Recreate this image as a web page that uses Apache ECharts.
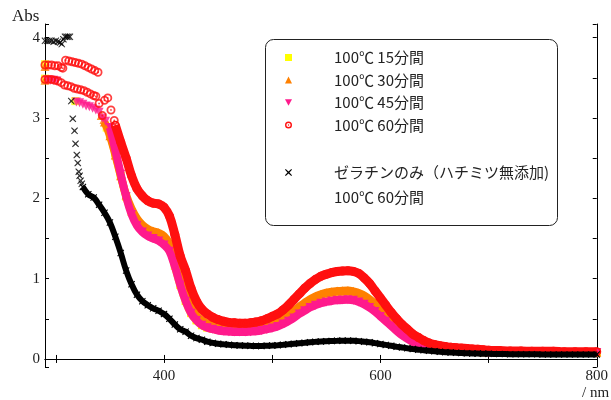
<!DOCTYPE html>
<html>
<head>
<meta charset="utf-8">
<script src="https://cdn.jsdelivr.net/npm/echarts@6/dist/echarts.min.js"></script>
<style>
html, body { margin: 0; padding: 0; background: #fff; }
#chart { width: 611px; height: 400px; }
</style>
</head>
<body>
<div id="chart"></div>
<script>
// wavelength grid (nm)
var wl = [290,295,300,305,310,315,320,325,330,335,340,345,350,355,360,365,370,375,380,385,
  390,395,400,405,410,415,420,425,430,435,440,445,450,455,460,465,470,475,480,485,
  490,495,500,505,510,515,520,525,530,535,540,545,550,555,560,565,570,575,580,585,
  590,595,600,605,610,615,620,625,630,635,640,645,650,655,660,665,670,675,680,685,
  690,695,700,710,720,730,740,750,760,770,780,790,800];

var names = ['100℃ 15分間', '100℃ 30分間', '100℃ 45分間', '100℃ 60分間', 'ゼラチンのみ（ハチミツ無添加)'];

// absorbance, null = saturated part (see the sat* point lists)
var abs15 = [null,null,null,null,null,null,null,null,null,null,null,null,2.80,2.56,2.28,2.02,1.83,1.70,1.62,1.57,
  1.54,1.51,1.47,1.38,1.16,0.92,0.72,0.57,0.48,0.42,0.39,0.375,0.365,0.355,0.35,0.35,0.35,0.35,0.355,0.36,
  0.37,0.385,0.40,0.43,0.46,0.50,0.54,0.585,0.63,0.67,0.70,0.725,0.74,0.752,0.76,0.765,0.767,0.758,0.74,0.71,
  0.67,0.62,0.56,0.50,0.44,0.38,0.32,0.27,0.225,0.19,0.165,0.145,0.135,0.125,0.115,0.11,0.10,0.10,0.095,0.095,
  0.09,0.09,0.09,0.085,0.085,0.085,0.085,0.085,0.08,0.08,0.08,0.08,0.08];
var abs30 = [null,null,null,null,null,null,null,null,null,null,null,2.95,2.78,2.54,2.28,2.04,1.87,1.75,1.67,1.62,
  1.59,1.57,1.53,1.44,1.26,1.03,0.81,0.65,0.54,0.48,0.44,0.42,0.405,0.395,0.39,0.385,0.385,0.385,0.39,0.40,
  0.41,0.425,0.44,0.465,0.50,0.55,0.60,0.65,0.70,0.745,0.78,0.805,0.825,0.838,0.845,0.85,0.852,0.842,0.822,0.79,
  0.745,0.69,0.63,0.57,0.50,0.43,0.37,0.31,0.26,0.22,0.19,0.165,0.15,0.135,0.125,0.115,0.11,0.105,0.10,0.095,
  0.095,0.09,0.09,0.09,0.09,0.085,0.085,0.085,0.085,0.085,0.085,0.085,0.085];
var abs45 = [null,null,null,null,null,null,null,null,null,null,null,null,2.88,2.60,2.30,2.02,1.80,1.66,1.58,1.53,
  1.50,1.47,1.42,1.34,1.15,0.92,0.72,0.57,0.48,0.42,0.39,0.37,0.355,0.345,0.34,0.335,0.335,0.335,0.34,0.345,
  0.355,0.37,0.385,0.405,0.435,0.47,0.51,0.56,0.60,0.64,0.67,0.695,0.71,0.722,0.73,0.735,0.737,0.73,0.71,0.68,
  0.64,0.59,0.53,0.47,0.41,0.35,0.295,0.25,0.21,0.18,0.16,0.14,0.13,0.12,0.11,0.105,0.10,0.095,0.095,0.09,
  0.09,0.09,0.085,0.085,0.085,0.085,0.085,0.085,0.08,0.08,0.08,0.08,0.08];
var abs60 = [null,null,null,null,null,null,null,null,null,null,null,null,null,2.91,2.70,2.50,2.28,2.12,2.03,1.97,
  1.94,1.93,1.89,1.78,1.55,1.28,1.10,0.88,0.72,0.62,0.56,0.52,0.49,0.47,0.455,0.45,0.445,0.445,0.45,0.46,
  0.475,0.50,0.53,0.56,0.61,0.67,0.74,0.81,0.88,0.94,0.99,1.03,1.055,1.075,1.088,1.095,1.098,1.09,1.065,1.01,
  0.94,0.85,0.76,0.67,0.58,0.50,0.43,0.37,0.31,0.27,0.23,0.20,0.18,0.165,0.155,0.145,0.14,0.135,0.13,0.125,
  0.12,0.115,0.11,0.105,0.10,0.10,0.095,0.095,0.095,0.09,0.09,0.09,0.09];
var absGel = [null,null,null,null,null,null,null,2.14,2.05,2.01,1.92,1.82,1.70,1.52,1.32,1.10,0.93,0.80,0.72,0.67,
  0.63,0.60,0.56,0.50,0.43,0.37,0.34,0.29,0.26,0.24,0.215,0.20,0.19,0.183,0.177,0.172,0.168,0.165,0.163,0.162,
  0.162,0.164,0.167,0.171,0.176,0.182,0.189,0.196,0.202,0.208,0.213,0.218,0.221,0.224,0.226,0.228,0.228,0.226,0.222,0.215,
  0.207,0.197,0.186,0.175,0.164,0.153,0.143,0.133,0.124,0.116,0.108,0.102,0.096,0.09,0.085,0.081,0.077,0.074,0.071,0.069,
  0.067,0.065,0.064,0.062,0.06,0.059,0.058,0.057,0.056,0.056,0.055,0.055,0.055];

// scattered points in the saturated region [nm, Abs]
var sat15 = [[290,3.67],[290,3.49],[318,3.21],[347,2.88]];
var sat30 = [[290,3.64],[290,3.47],[342,3.03],[344.5,2.98]];
var sat45 = [[292,3.47],[295,3.47],[298,3.47],[301,3.46],[319,3.20],[322,3.19],[325,3.17],[328,3.15],
  [331,3.14],[334,3.12],[337,3.10],[340,3.07],[343,3.0],[346,2.96]];
var sat60 = [[290,3.66],[293,3.66],[296,3.66],[299,3.65],[302,3.65],[305,3.63],[306.5,3.62],
  [309,3.72],[312,3.71],[315,3.70],[318,3.69],[321,3.68],[324,3.67],[327,3.65],[330,3.63],[333,3.61],[336,3.59],[339,3.57],
  [290,3.48],[293,3.48],[296,3.48],[299,3.47],[302,3.46],[305,3.44],[308,3.41],[311,3.40],[314,3.39],[317,3.37],
  [320,3.36],[323,3.35],[326,3.34],[329,3.32],[332,3.30],[335,3.28],[337,3.27],
  [340,3.18],[343,3.03],[345,3.22],[348,3.25],[351,3.10],[354,2.97]];
var satGel = [[290,3.96],[292,3.96],[294,3.96],[296,3.96],[298,3.95],[300,3.96],[302,3.95],[304,3.94],[305.5,3.92],
  [307,3.98],[308.5,4.01],[310,4.01],[311.5,4.01],[313,4.01],[314.3,3.21],[315.7,2.99],[317.3,2.84],[318.2,2.68],
  [319.4,2.54],[320.3,2.44],[321.2,2.33],[322,2.28],[323,2.22],[324,2.18]];

var colors = ['#ffff00', '#ff8000', '#ff1a8c', '#ff1010', '#000000'];
var ring = 'path://M10,0A10,10,0,1,1,10,20A10,10,0,1,1,10,0ZM10,4A6,6,0,1,0,10,16A6,6,0,1,0,10,4ZM10,8A2,2,0,1,1,10,12A2,2,0,1,1,10,8Z';
var downTri = 'path://M0,0L10,0L5,9Z';
var cross = 'path://M1,0L5,3.6L9,0L10,1L6.4,5L10,9L9,10L5,6.4L1,10L0,9L3.6,5L0,1Z';
var symbols = ['rect', 'triangle', downTri, ring, cross];

function pairs(vals) {
    var out = [];
    for (var i = 0; i < wl.length; i++) {
        if (vals[i] != null) out.push([wl[i], vals[i]]);
    }
    return out;
}

var mains = [abs15, abs30, abs45, abs60, absGel];
var sats = [sat15, sat30, sat45, sat60, satGel];
var sizes = [8, 9, 9, 9, 7];
var widths = [8, 8, 8, 9, 6];

var series = [];
for (var k = 0; k < 5; k++) {
    series.push({
        type: 'line',
        name: names[k],
        data: pairs(mains[k]),
        smooth: 0.4,
        symbol: symbols[k],
        symbolSize: sizes[k],
        color: colors[k],
        lineStyle: { width: widths[k], color: colors[k] },
        itemStyle: { color: colors[k] },
        z: 2 + k
    });
    series.push({
        type: 'scatter',
        name: names[k],
        data: sats[k],
        symbol: symbols[k],
        symbolSize: sizes[k],
        itemStyle: { color: colors[k] },
        z: 2 + k
    });
}

var serif = 'Liberation Serif';
var cjk = 'Noto Sans CJK JP';

var myChart = echarts.init(document.getElementById('chart'));
var option = {
    animation: false,
    grid: { left: 45, right: 10, top: 24, bottom: 33 },
    xAxis: [
        {
            type: 'value', min: 290, max: 800, splitNumber: 5,
            axisLine: { lineStyle: { color: '#000', width: 1 } },
            axisTick: { inside: true, length: 4, lineStyle: { color: '#000' } },
            splitLine: { show: false },
            axisLabel: {
                margin: 2, color: '#222', fontFamily: serif, fontSize: 15,
                formatter: function (v) { return v % 200 === 0 ? String(v) : ''; }
            }
        },
        {
            type: 'value', position: 'top', min: 290, max: 800, splitNumber: 5,
            axisLine: { lineStyle: { color: '#000', width: 1 } },
            axisTick: { inside: true, length: 4, lineStyle: { color: '#000' } },
            splitLine: { show: false },
            axisLabel: { show: false }
        }
    ],
    yAxis: [
        {
            type: 'value', min: -0.1, max: 4.17, splitNumber: 8,
            axisLine: { lineStyle: { color: '#000', width: 1 } },
            axisTick: { inside: true, length: 4, lineStyle: { color: '#000' } },
            splitLine: { show: false },
            axisLabel: {
                margin: 5, color: '#222', fontFamily: serif, fontSize: 15,
                formatter: function (v) { return Number.isInteger(v) ? String(v) : ''; }
            }
        },
        {
            type: 'value', position: 'right', min: -0.1, max: 4.17, splitNumber: 8,
            axisLine: { lineStyle: { color: '#000', width: 1 } },
            axisTick: { inside: true, length: 4, lineStyle: { color: '#000' } },
            splitLine: { show: false },
            axisLabel: { show: false }
        }
    ],
    legend: [
        {
            data: [0, 1, 2, 3].map(function (i) { return { name: names[i], icon: symbols[i] }; }),
            orient: 'vertical', left: 285, top: 50, padding: 0,
            itemWidth: 7, itemHeight: 7, itemGap: 7.5, selectedMode: false,
            textStyle: { fontFamily: cjk, fontSize: 15, color: '#222', padding: [0, 0, 0, 37] }
        },
        {
            data: [{ name: names[4], icon: symbols[4] }],
            orient: 'vertical', left: 285, top: 165, padding: 0,
            itemWidth: 7, itemHeight: 7, selectedMode: false,
            textStyle: { fontFamily: cjk, fontSize: 15, color: '#222', padding: [0, 0, 0, 37] }
        }
    ],
    graphic: [
        {
            type: 'rect', z: 1,
            shape: { x: 265.5, y: 39.5, width: 292, height: 186, r: 8 },
            style: { fill: 'none', stroke: '#222', lineWidth: 1 }
        },
        {
            type: 'text', x: 334, y: 197,
            style: { text: '100℃ 60分間', font: '15px "Noto Sans CJK JP"', fill: '#222', verticalAlign: 'middle' }
        },
        {
            type: 'text', x: 12, y: 17,
            style: { text: 'Abs', font: '17px "Liberation Serif"', fill: '#222', verticalAlign: 'middle' }
        },
        {
            type: 'text', x: 582, y: 393,
            style: { text: '/ nm', font: '15px "Liberation Serif"', fill: '#222', verticalAlign: 'middle' }
        }
    ],
    series: series
};

myChart.setOption(option);
</script>
</body>
</html>
